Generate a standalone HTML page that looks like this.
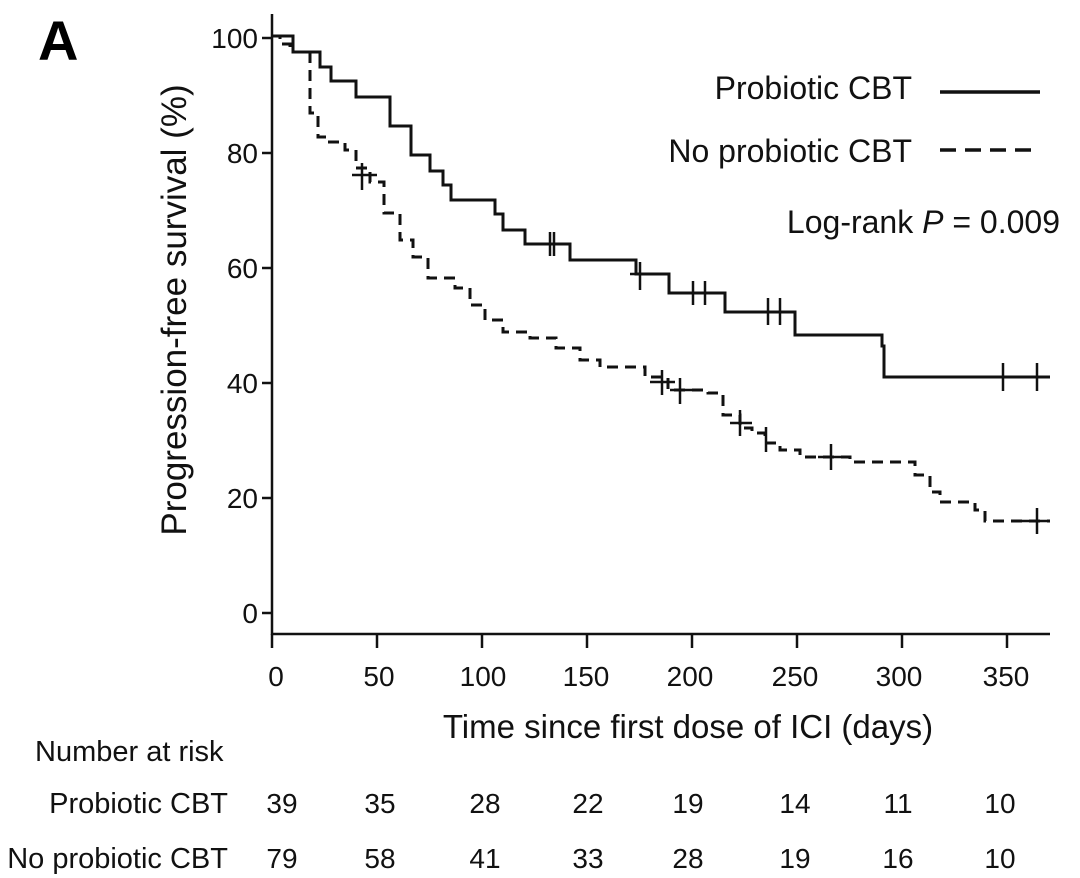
<!DOCTYPE html>
<html><head><style>
html,body{margin:0;padding:0;background:#fff;}
svg{display:block;font-family:"Liberation Sans",Arial,sans-serif;}
</style></head><body>
<svg width="1080" height="878" viewBox="0 0 1080 878" xmlns="http://www.w3.org/2000/svg">
<rect width="1080" height="878" fill="#fff"/>
<text x="38" y="60" font-size="56" font-weight="bold">A</text>
<g stroke="#111" stroke-width="2.5" fill="none">
<line x1="272" y1="14" x2="272" y2="635"/>
<line x1="271" y1="634" x2="1050" y2="634"/>
<line x1="262" y1="38" x2="272" y2="38"/>
<line x1="262" y1="153" x2="272" y2="153"/>
<line x1="262" y1="268" x2="272" y2="268"/>
<line x1="262" y1="383" x2="272" y2="383"/>
<line x1="262" y1="498" x2="272" y2="498"/>
<line x1="262" y1="613" x2="272" y2="613"/>
<line x1="272" y1="634" x2="272" y2="648"/>
<line x1="377" y1="634" x2="377" y2="648"/>
<line x1="482" y1="634" x2="482" y2="648"/>
<line x1="587" y1="634" x2="587" y2="648"/>
<line x1="692" y1="634" x2="692" y2="648"/>
<line x1="797" y1="634" x2="797" y2="648"/>
<line x1="902" y1="634" x2="902" y2="648"/>
<line x1="1007" y1="634" x2="1007" y2="648"/>
</g>
<g font-size="28" fill="#111" text-anchor="end">
<text x="258" y="48">100</text><text x="258" y="163">80</text><text x="258" y="278">60</text>
<text x="258" y="393">40</text><text x="258" y="508">20</text><text x="258" y="623">0</text>
</g>
<g font-size="28" fill="#111" text-anchor="middle">
<text x="276" y="686">0</text><text x="379" y="686">50</text><text x="483" y="686">100</text>
<text x="586" y="686">150</text><text x="690" y="686">200</text><text x="795" y="686">250</text>
<text x="899" y="686">300</text><text x="1006" y="686">350</text>
</g>
<text transform="translate(186,310) rotate(-90)" font-size="35" text-anchor="middle" fill="#111">Progression-free survival (%)</text>
<text x="688" y="738" font-size="33" text-anchor="middle" fill="#111">Time since first dose of ICI (days)</text>
<polyline fill="none" stroke="#111" stroke-width="3" points="272,36 293,36 293,52 320,52 320,67 331,67 331,81 356,81 356,97 390,97 390,126 411,126 411,155 430,155 430,171 443,171 443,185 451,185 451,200 495,200 495,214 503,214 503,230 525,230 525,244 570,244 570,260 636,260 636,274 669,274 669,293 725,293 725,312 795,312 795,335 882,335 882,346 884,346 884,377 1050,377"/>
<g stroke="#111" stroke-width="2.5">
<line x1="550" y1="232" x2="550" y2="256"/><line x1="554" y1="232" x2="554" y2="256"/>
<line x1="640" y1="262" x2="640" y2="290"/><line x1="630" y1="274" x2="650" y2="274"/>
<line x1="693" y1="281" x2="693" y2="305"/><line x1="705" y1="281" x2="705" y2="305"/>
<line x1="768" y1="298" x2="768" y2="325"/><line x1="780" y1="298" x2="780" y2="325"/>
<line x1="1003" y1="363" x2="1003" y2="391"/><line x1="1037" y1="363" x2="1037" y2="391"/>
</g>
<polyline fill="none" stroke="#111" stroke-width="3" stroke-dasharray="11 7" points="272,36 280,36 280,44 290,44 290,52 310,52 310,113 318,113 318,137 326,137 326,142 345,142 345,150 356,150 356,168 370,168 370,182 384,182 384,213 400,213 400,240 413,240 413,257 428,257 428,278 455,278 455,288 470,288 470,305 485,305 485,320 503,320 503,332 530,332 530,338 556,338 556,348 580,348 580,360 600,360 600,367 645,367 645,377 668,377 668,390 708,390 708,393 723,393 723,415 740,415 740,428 752,428 752,433 765,433 765,443 780,443 780,450 800,450 800,457 850,457 850,462 915,462 915,475 930,475 930,492 940,492 940,502 975,502 975,510 985,510 985,521 1050,521"/>
<g stroke="#111" stroke-width="2.5">
<line x1="362" y1="163" x2="362" y2="190"/><line x1="352" y1="175" x2="377" y2="175"/>
<line x1="662" y1="370" x2="662" y2="395"/><line x1="650" y1="382" x2="675" y2="382"/>
<line x1="680" y1="378" x2="680" y2="404"/><line x1="670" y1="390" x2="692" y2="390"/>
<line x1="740" y1="410" x2="740" y2="436"/><line x1="730" y1="423" x2="752" y2="423"/>
<line x1="766" y1="427" x2="766" y2="452"/>
<line x1="831" y1="444" x2="831" y2="470"/><line x1="818" y1="457" x2="842" y2="457"/>
<line x1="1037" y1="508" x2="1037" y2="534"/><line x1="1022" y1="521" x2="1050" y2="521"/>
</g>
<g font-size="32" fill="#111">
<text x="912" y="99" text-anchor="end">Probiotic CBT</text>
<text x="912" y="162" text-anchor="end">No probiotic CBT</text>
<text x="1060" y="233" text-anchor="end">Log-rank <tspan font-style="italic">P</tspan> = 0.009</text>
</g>
<line x1="940" y1="92" x2="1040" y2="92" stroke="#111" stroke-width="3.5"/>
<line x1="940" y1="150" x2="1040" y2="150" stroke="#111" stroke-width="3.5" stroke-dasharray="16 9"/>
<g font-size="29" fill="#111">
<text x="35" y="761">Number at risk</text>
<text x="228" y="813" text-anchor="end">Probiotic CBT</text>
<text x="228" y="868" text-anchor="end">No probiotic CBT</text>
</g>
<g font-size="28" fill="#111" text-anchor="middle">
<text x="282" y="813">39</text><text x="380" y="813">35</text><text x="485" y="813">28</text><text x="588" y="813">22</text><text x="688" y="813">19</text><text x="795" y="813">14</text><text x="898" y="813">11</text><text x="1000" y="813">10</text>
<text x="282" y="868">79</text><text x="380" y="868">58</text><text x="485" y="868">41</text><text x="588" y="868">33</text><text x="688" y="868">28</text><text x="795" y="868">19</text><text x="898" y="868">16</text><text x="1000" y="868">10</text>
</g>
</svg>
</body></html>
